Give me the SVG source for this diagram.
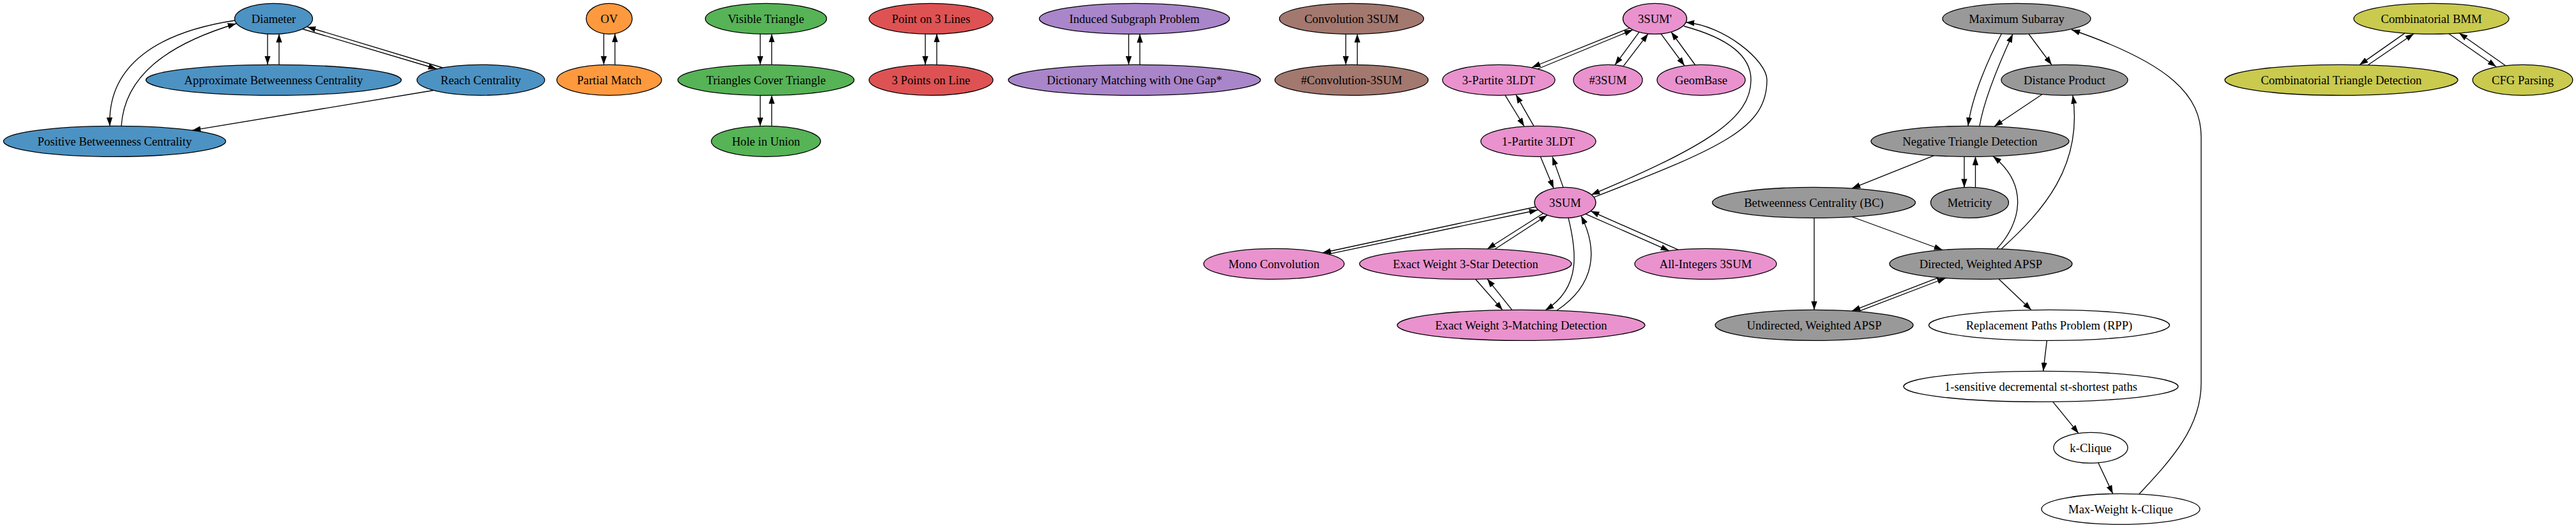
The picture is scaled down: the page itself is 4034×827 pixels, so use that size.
<svg xmlns="http://www.w3.org/2000/svg" width="4034" height="827" viewBox="0 0 4034 827">
<defs>
<style>
.n ellipse{stroke:#000;stroke-width:1.33}
.n text{font-family:"Liberation Serif","Times New Roman",serif;font-size:18.67px;text-anchor:middle;fill:#000}
.blue{fill:#4c92c3}.orange{fill:#ff993e}.green{fill:#56b356}.red{fill:#de5253}.purple{fill:#a985ca}
.brown{fill:#a3786f}.pink{fill:#e992ce}.gray{fill:#999999}.white{fill:#ffffff}.olive{fill:#c9ca4e}
#edges path{fill:none;stroke:#000;stroke-width:1.33;marker-end:url(#ah)}
</style>
<marker id="ah" viewBox="0 0 10 7" refX="10" refY="3.5" markerWidth="13.33" markerHeight="9.33" markerUnits="userSpaceOnUse" orient="auto"><path d="M0,0 L10,3.5 L0,7 z" fill="#000"/></marker>
</defs>
<rect width="4034" height="827" fill="#fff"/>
<g id="edges">
<!-- blue -->
<path d="M419,53 L419,101"/>
<path d="M437,101.3 L437,53.2"/>
<path d="M474,45.5 L684,108"/>
<path d="M693,106 L481,42"/>
<path d="M368,32 C250,50 168,100 172,197.3"/>
<path d="M190,197.3 C195,120 260,70 370,37"/>
<path d="M679,141.5 L301,204.2"/>
<!-- orange -->
<path d="M945.5,52.6 L945.5,101.3"/>
<path d="M963,101.5 L963,52.8"/>
<!-- green -->
<path d="M1190.5,53.1 L1190.5,101.4"/>
<path d="M1208.5,101.4 L1208.5,53.1"/>
<path d="M1190.5,149.2 L1190.5,197.6"/>
<path d="M1208.5,197.6 L1208.5,149.2"/>
<!-- red -->
<path d="M1449,53.1 L1449,101.4"/>
<path d="M1467,101.4 L1467,53.1"/>
<!-- purple -->
<path d="M1767.5,53.3 L1767.5,101.4"/>
<path d="M1785,101.4 L1785,53.3"/>
<!-- brown -->
<path d="M2107.5,53.2 L2107.5,101.4"/>
<path d="M2125.5,101.4 L2125.5,53.2"/>
<!-- pink -->
<path d="M2552,44 L2399,105.5"/>
<path d="M2408,108 L2557,46.7"/>
<path d="M2567,50.2 L2529,101.7"/>
<path d="M2542,103.8 L2581,52.8"/>
<path d="M2601,52.9 L2638,103"/>
<path d="M2654.5,101.5 L2617,50"/>
<path d="M2357,149.2 L2387,198"/>
<path d="M2402,197.6 L2374,148.3"/>
<path d="M2412,244.5 L2433,295"/>
<path d="M2448,293.4 L2431,245.5"/>
<path d="M2637,41 C2700,58 2742,85 2742,125 C2742,185 2675,228 2492,305"/>
<path d="M2496,309 C2700,230 2767,200 2767,125 C2767,95 2700,40 2640,35"/>
<path d="M2405,324 L2071,396"/>
<path d="M2081,397.8 L2408,329"/>
<path d="M2417,334 L2329,390"/>
<path d="M2341,390.3 L2423,337"/>
<path d="M2483,335.2 L2614,392.8"/>
<path d="M2628,391.2 L2491,330.6"/>
<path d="M2310.6,437.2 L2353,485.6"/>
<path d="M2368,485.7 L2329,436.8"/>
<path d="M2456,341.2 C2468,390 2478,450 2420,485.8"/>
<path d="M2438,486.3 C2500,445 2502,390 2476,338"/>
<!-- gray -->
<path d="M3134.4,52.8 C3115,90 3088,150 3082,197.3"/>
<path d="M3100,197.4 C3108,150 3135,90 3152,53.3"/>
<path d="M3176.8,53 L3213,101.6"/>
<path d="M3198,147.8 L3123,198"/>
<path d="M3349.7,774 C3400,720 3447,670 3447,600 L3447,215 C3447,150 3400,100 3244,46.5"/>
<path d="M3134,389.9 C3200,330 3262,260 3246,149.2"/>
<path d="M3126.8,389.7 C3165,350 3178,290 3121,244.7"/>
<path d="M3028.6,243.7 L2900,295.1"/>
<path d="M3076,245.3 L3076,293.7"/>
<path d="M3093.5,293.7 L3093.5,245.3"/>
<path d="M2841,341.3 L2841,485.3"/>
<path d="M2900,339.5 L3042,391.5"/>
<path d="M3036,434.7 L2900,487.1"/>
<path d="M2910,487.8 L3047,435.5"/>
<path d="M3130,436.9 L3181,485.6"/>
<path d="M3205.4,533.3 L3199.7,581.3"/>
<path d="M3214.6,629.2 L3255,678.7"/>
<path d="M3285.8,724.8 L3308.7,773.4"/>
<!-- olive -->
<path d="M3766,51.9 L3695,101.6"/>
<path d="M3708,102 L3780,52.7"/>
<path d="M3834.7,52.7 L3909,104.5"/>
<path d="M3923.6,102.8 L3851,51.7"/>
</g>
<g id="diameter" class="n"><ellipse class="blue" cx="428.5" cy="29.33" rx="61" ry="24"/><text x="428.5" y="35.5">Diameter</text></g>
<g id="abc" class="n"><ellipse class="blue" cx="428.5" cy="125.33" rx="200" ry="24"/><text x="428.5" y="131.5">Approximate Betweenness Centrality</text></g>
<g id="reach" class="n"><ellipse class="blue" cx="753" cy="125.33" rx="100" ry="24"/><text x="753" y="131.5">Reach Centrality</text></g>
<g id="pbc" class="n"><ellipse class="blue" cx="179.5" cy="221.33" rx="174" ry="24"/><text x="179.5" y="227.5">Positive Betweenness Centrality</text></g>
<g id="ov" class="n"><ellipse class="orange" cx="954" cy="29.33" rx="36" ry="24"/><text x="954" y="35.5">OV</text></g>
<g id="pm" class="n"><ellipse class="orange" cx="954" cy="125.33" rx="82" ry="24"/><text x="954" y="131.5">Partial Match</text></g>
<g id="vt" class="n"><ellipse class="green" cx="1199.5" cy="29.33" rx="95" ry="24"/><text x="1199.5" y="35.5">Visible Triangle</text></g>
<g id="tct" class="n"><ellipse class="green" cx="1199.5" cy="125.33" rx="138" ry="24"/><text x="1199.5" y="131.5">Triangles Cover Triangle</text></g>
<g id="hu" class="n"><ellipse class="green" cx="1199.5" cy="221.33" rx="85.5" ry="24"/><text x="1199.5" y="227.5">Hole in Union</text></g>
<g id="p3l" class="n"><ellipse class="red" cx="1458" cy="29.33" rx="97" ry="24"/><text x="1458" y="35.5">Point on 3 Lines</text></g>
<g id="3pl" class="n"><ellipse class="red" cx="1458" cy="125.33" rx="97" ry="24"/><text x="1458" y="131.5">3 Points on Line</text></g>
<g id="isp" class="n"><ellipse class="purple" cx="1776.5" cy="29.33" rx="149" ry="24"/><text x="1776.5" y="35.5">Induced Subgraph Problem</text></g>
<g id="dmog" class="n"><ellipse class="purple" cx="1776.5" cy="125.33" rx="197.5" ry="24"/><text x="1776.5" y="131.5">Dictionary Matching with One Gap*</text></g>
<g id="conv3sum" class="n"><ellipse class="brown" cx="2116.5" cy="29.33" rx="113" ry="24"/><text x="2116.5" y="35.5">Convolution 3SUM</text></g>
<g id="nconv3sum" class="n"><ellipse class="brown" cx="2116.5" cy="125.33" rx="120" ry="24"/><text x="2116.5" y="131.5">#Convolution-3SUM</text></g>
<g id="3sump" class="n"><ellipse class="pink" cx="2591.5" cy="29.33" rx="50" ry="24"/><text x="2591.5" y="35.5">3SUM'</text></g>
<g id="3p3ldt" class="n"><ellipse class="pink" cx="2347" cy="125.33" rx="88" ry="24"/><text x="2347" y="131.5">3-Partite 3LDT</text></g>
<g id="n3sum" class="n"><ellipse class="pink" cx="2518" cy="125.33" rx="54" ry="24"/><text x="2518" y="131.5">#3SUM</text></g>
<g id="geombase" class="n"><ellipse class="pink" cx="2664" cy="125.33" rx="69" ry="24"/><text x="2664" y="131.5">GeomBase</text></g>
<g id="1p3ldt" class="n"><ellipse class="pink" cx="2409" cy="221.33" rx="90" ry="24"/><text x="2409" y="227.5">1-Partite 3LDT</text></g>
<g id="3sum" class="n"><ellipse class="pink" cx="2451" cy="317.33" rx="48" ry="24"/><text x="2451" y="323.5">3SUM</text></g>
<g id="monoconv" class="n"><ellipse class="pink" cx="1995" cy="413.33" rx="110" ry="24"/><text x="1995" y="419.5">Mono Convolution</text></g>
<g id="ew3star" class="n"><ellipse class="pink" cx="2295" cy="413.33" rx="166" ry="24"/><text x="2295" y="419.5">Exact Weight 3-Star Detection</text></g>
<g id="allint3sum" class="n"><ellipse class="pink" cx="2671" cy="413.33" rx="111" ry="24"/><text x="2671" y="419.5">All-Integers 3SUM</text></g>
<g id="ew3match" class="n"><ellipse class="pink" cx="2382" cy="509.33" rx="194" ry="24"/><text x="2382" y="515.5">Exact Weight 3-Matching Detection</text></g>
<g id="maxsub" class="n"><ellipse class="gray" cx="3158" cy="29.33" rx="116" ry="24"/><text x="3158" y="35.5">Maximum Subarray</text></g>
<g id="distprod" class="n"><ellipse class="gray" cx="3233" cy="125.33" rx="99" ry="24"/><text x="3233" y="131.5">Distance Product</text></g>
<g id="ntd" class="n"><ellipse class="gray" cx="3085" cy="221.33" rx="155" ry="24"/><text x="3085" y="227.5">Negative Triangle Detection</text></g>
<g id="bc" class="n"><ellipse class="gray" cx="2840.5" cy="317.33" rx="159" ry="24"/><text x="2840.5" y="323.5">Betweenness Centrality (BC)</text></g>
<g id="metricity" class="n"><ellipse class="gray" cx="3084.5" cy="317.33" rx="61" ry="24"/><text x="3084.5" y="323.5">Metricity</text></g>
<g id="dwapsp" class="n"><ellipse class="gray" cx="3102" cy="413.33" rx="143" ry="24"/><text x="3102" y="419.5">Directed, Weighted APSP</text></g>
<g id="uwapsp" class="n"><ellipse class="gray" cx="2841" cy="509.33" rx="155" ry="24"/><text x="2841" y="515.5">Undirected, Weighted APSP</text></g>
<g id="rpp" class="n"><ellipse class="white" cx="3209" cy="509.33" rx="188.5" ry="24"/><text x="3209" y="515.5">Replacement Paths Problem (RPP)</text></g>
<g id="onesens" class="n"><ellipse class="white" cx="3196" cy="605.33" rx="215" ry="24"/><text x="3196" y="611.5">1-sensitive decremental st-shortest paths</text></g>
<g id="kclique" class="n"><ellipse class="white" cx="3274" cy="701.33" rx="58" ry="24"/><text x="3274" y="707.5">k-Clique</text></g>
<g id="mwkclique" class="n"><ellipse class="white" cx="3321" cy="797.33" rx="124" ry="24"/><text x="3321" y="803.5">Max-Weight k-Clique</text></g>
<g id="cbmm" class="n"><ellipse class="olive" cx="3807.5" cy="29.33" rx="121.5" ry="24"/><text x="3807.5" y="35.5">Combinatorial BMM</text></g>
<g id="ctd" class="n"><ellipse class="olive" cx="3666.5" cy="125.33" rx="182.5" ry="24"/><text x="3666.5" y="131.5">Combinatorial Triangle Detection</text></g>
<g id="cfg" class="n"><ellipse class="olive" cx="3950.5" cy="125.33" rx="78.3" ry="24"/><text x="3950.5" y="131.5">CFG Parsing</text></g>
</svg>
